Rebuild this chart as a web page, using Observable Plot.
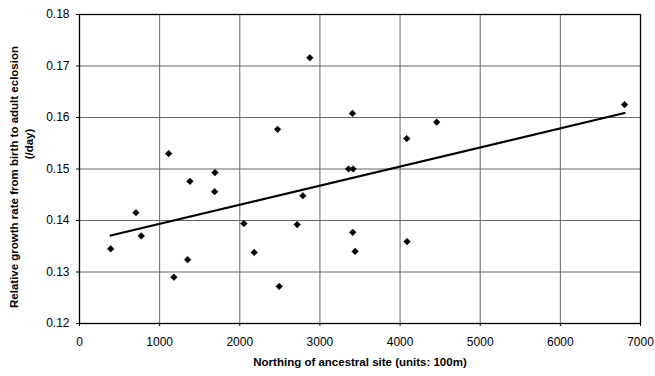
<!DOCTYPE html>
<html>
<head>
<meta charset="utf-8">
<script src="https://cdn.jsdelivr.net/npm/d3@7"></script>
<script src="https://cdn.jsdelivr.net/npm/@observablehq/plot@0.6"></script>
<style>
  html, body { margin: 0; padding: 0; background: #fff; }
  #chart svg { display: block; }
</style>
</head>
<body>
<div id="chart"></div>
<script>
// Northing of ancestral site (units: 100m)
const northing = [389, 704, 771, 1178, 1349, 1378, 1690, 1686, 2051, 2180, 2492, 2716, 2787, 3357, 3414, 3410, 3439, 1112, 2471, 2874, 3406, 4083, 4457, 6801, 4087];
// Relative growth rate from birth to adult eclosion (/day)
const growth = [0.1345, 0.1415, 0.1370, 0.1290, 0.1324, 0.1476, 0.1493, 0.1456, 0.1394, 0.1338, 0.1272, 0.1392, 0.1448, 0.1500, 0.1500, 0.1377, 0.1340, 0.1530, 0.1577, 0.1716, 0.1608, 0.1559, 0.1591, 0.1625, 0.1359];
const xTicks = [0, 1000, 2000, 3000, 4000, 5000, 6000, 7000];
const yTicks = [0.12, 0.13, 0.14, 0.15, 0.16, 0.17, 0.18];
const xLabel = "Northing of ancestral site (units: 100m)";
const yLabel1 = "Relative growth rate from birth to adult eclosion";
const yLabel2 = "(/day)";

const data = northing.map((x, i) => ({x, y: growth[i]}));

const chart = Plot.plot({
  width: 655,
  height: 376,
  marginLeft: 79,
  marginRight: 15,
  marginTop: 14,
  marginBottom: 53,
  style: {fontFamily: "Liberation Sans, Arial, sans-serif", fontSize: "11px", color: "#000", background: "#fff"},
  x: {domain: [0, 7000], ticks: xTicks, label: null, tickFormat: d3.format("d")},
  y: {domain: [0.12, 0.18], ticks: yTicks, label: null, tickFormat: d3.format(".2f")},
  marks: [
    Plot.gridX(xTicks, {stroke: "#666", strokeOpacity: 1}),
    Plot.gridY(yTicks, {stroke: "#666", strokeOpacity: 1}),
    Plot.frame({stroke: "#000", strokeWidth: 1.3}),
    Plot.axisX({ticks: xTicks, tickSize: 3, tickPadding: 11, fontSize: 12, label: null, tickFormat: d3.format("d")}),
    Plot.axisY({ticks: yTicks, tickSize: 3, tickPadding: 7, fontSize: 12, label: null, tickFormat: d3.format(".2f")}),
    Plot.linearRegressionY(data, {x: "x", y: "y", stroke: "#000", strokeWidth: 2.2, ci: 0}),
    Plot.dot(data, {x: "x", y: "y", symbol: "diamond2", r: 3, fill: "#000", stroke: "#000", strokeWidth: 0.5}),
    Plot.text([xLabel], {frameAnchor: "bottom", dy: 42, fontWeight: "bold", fontSize: 11.5, fill: "#000"}),
    Plot.text([yLabel1], {frameAnchor: "left", textAnchor: "middle", lineAnchor: "middle", dx: -65, dy: 8, rotate: -90, fontWeight: "bold", fontSize: 11.5, fill: "#000"}),
    Plot.text([yLabel2], {frameAnchor: "left", textAnchor: "middle", lineAnchor: "middle", dx: -50, dy: -25, rotate: -90, fontWeight: "bold", fontSize: 11.5, fill: "#000"})
  ]
});
document.getElementById("chart").appendChild(chart);
</script>
</body>
</html>
